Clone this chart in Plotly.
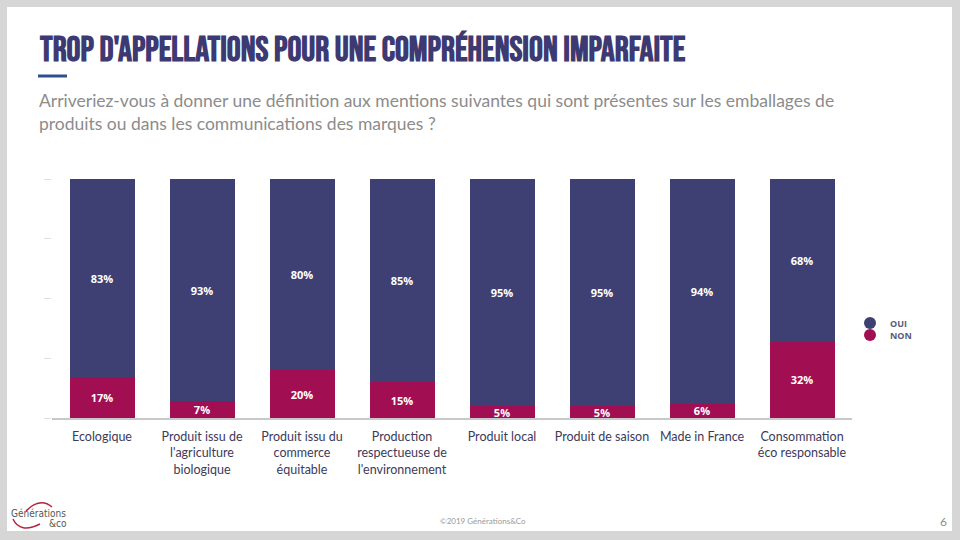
import plotly.graph_objects as go

categories = [
    "Ecologique",
    "Produit issu de<br>l'agriculture<br>biologique",
    "Produit issu du<br>commerce<br>équitable",
    "Production<br>respectueuse de<br>l'environnement",
    "Produit local",
    "Produit de saison",
    "Made in France",
    "Consommation<br>éco responsable",
]
non_values = [17, 7, 20, 15, 5, 5, 6, 32]
oui_values = [83, 93, 80, 85, 95, 95, 94, 68]
y_ticks = [0, 25, 50, 75, 100]

COL_OUI = "#3e3f73"
COL_NON = "#a10f52"

fig = go.Figure()
fig.add_trace(go.Bar(
    x=categories, y=non_values, name="NON", marker=dict(color=COL_NON, line=dict(width=0)),
    text=[f"{v}%" for v in non_values], textposition="inside", insidetextanchor="middle",
    textfont=dict(color="white", size=11, family="Open Sans", weight="bold"), showlegend=False,
))
fig.add_trace(go.Bar(
    x=categories, y=oui_values, name="OUI", marker=dict(color=COL_OUI, line=dict(width=0)),
    text=[f"{v}%" for v in oui_values], textposition="inside", insidetextanchor="middle",
    textfont=dict(color="white", size=11, family="Open Sans", weight="bold"), showlegend=False,
))
# legend entries with circle markers (one legend each so they sit close together)
fig.add_trace(go.Scatter(x=[None], y=[None], mode="markers", name="OUI", legend="legend",
                         marker=dict(symbol="circle", size=12, color=COL_OUI)))
fig.add_trace(go.Scatter(x=[None], y=[None], mode="markers", name="NON", legend="legend2",
                         marker=dict(symbol="circle", size=12, color=COL_NON)))

L, R, T, B = 52, 108, 179, 122
W, H = 960, 540
pw, ph = W - L - R, H - T - B

def px(x):
    return (x - L) / pw

def py(y):
    return (H - B - y) / ph

shapes = [
    dict(type="rect", xref="paper", yref="paper", x0=px(7), x1=px(952), y0=py(531), y1=py(7),
         fillcolor="white", line=dict(width=0), layer="below"),
    dict(type="rect", xref="paper", yref="paper", x0=px(38), x1=px(67), y0=py(77.5), y1=py(74.5),
         fillcolor="#2f4f8f", line=dict(width=0)),
    dict(type="path", xref="paper", yref="paper",
         path=f"M {px(26)},{py(511)} Q {px(40)},{py(497)} {px(52)},{py(507)}", line=dict(color="#b5223e", width=1.5)),
    dict(type="path", xref="paper", yref="paper",
         path=f"M {px(13)},{py(519)} Q {px(20)},{py(534)} {px(40)},{py(524)}", line=dict(color="#b5223e", width=1.5)),
]

TITLE_FONTS = ("Bebas Neue, Oswald, Roboto Condensed, Noto Sans ExtraCondensed, "
               "Noto Sans Condensed, Liberation Sans Narrow, DejaVu Sans Condensed")

annotations = [
    dict(text="TROP D'APPELLATIONS POUR UNE COMPRÉHENSION IMPARFAITE", xref="paper", yref="paper",
         x=px(37), y=py(50), xanchor="left", yanchor="middle", showarrow=False,
         font=dict(family=TITLE_FONTS, size=34.7, color="#3d3a73", weight="bold")),
    dict(text="Arriveriez-vous à donner une définition aux mentions suivantes qui sont présentes sur les emballages de<br>produits ou dans les communications des marques ?",
         xref="paper", yref="paper", x=px(37), y=py(88), xanchor="left", yanchor="top", showarrow=False, align="left",
         font=dict(family="Lato", size=17.5, color="#8c8c8c")),
    dict(text="©2019 Générations&Co", xref="paper", yref="paper", x=px(483), y=py(521),
         xanchor="center", yanchor="middle", showarrow=False, font=dict(family="Lato", size=8, color="#9a9a9a")),
    dict(text="6", xref="paper", yref="paper", x=px(943), y=py(521),
         xanchor="center", yanchor="middle", showarrow=False, font=dict(family="Lato", size=12, color="#8c8c8c")),
    dict(text="Générations", xref="paper", yref="paper", x=px(9), y=py(513),
         xanchor="left", yanchor="middle", showarrow=False, font=dict(family="DejaVu Sans Condensed", size=10, color="#555555")),
    dict(text="&co", xref="paper", yref="paper", x=px(47), y=py(523),
         xanchor="left", yanchor="middle", showarrow=False, font=dict(family="DejaVu Sans Condensed", size=10, color="#555555")),
]

legend_style = dict(xanchor="left", yanchor="middle", font=dict(size=9, color="#5a5a7a", family="Open Sans", weight="bold"),
                    bgcolor="rgba(0,0,0,0)", itemwidth=30, borderwidth=0)

fig.update_layout(
    width=W, height=H,
    margin=dict(l=L, r=R, t=T, b=B, pad=0),
    paper_bgcolor="#d6d6d6", plot_bgcolor="white",
    barmode="stack", bargap=0.35,
    font=dict(family="Lato", color="#3d3a5a"),
    uniformtext=dict(minsize=11, mode="show"),
    shapes=shapes, annotations=annotations,
    legend=dict(x=px(850), y=py(323), **legend_style),
    legend2=dict(x=px(850), y=py(335), **legend_style),
    xaxis=dict(showline=True, linecolor="#c8c8c8", linewidth=2, ticks="", tickfont=dict(size=12.5, color="#3d3a5a"),
               ticklabelstandoff=6, showgrid=False, zeroline=False),
    yaxis=dict(range=[0, 100], tickvals=y_ticks, ticks="outside", ticklen=7, tickcolor="#e0e0e0",
               showticklabels=False, showgrid=False, zeroline=False, showline=False),
)

fig.write_html("out.html", config={"displayModeBar": False},
               post_script="document.body.style.margin='0';document.body.style.overflow='hidden';")
